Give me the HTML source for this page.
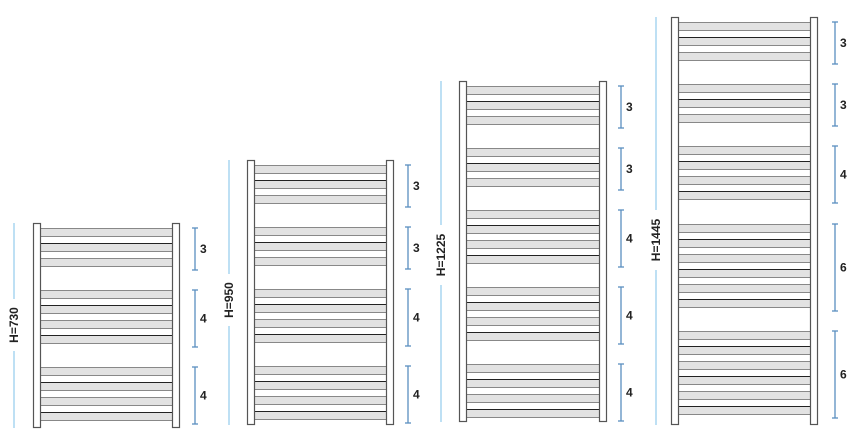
<!DOCTYPE html>
<html><head><meta charset="utf-8"><style>
html,body{margin:0;padding:0;background:#fff;width:864px;height:436px;overflow:hidden}
svg{display:block}
text{font-family:"Liberation Sans","DejaVu Sans",sans-serif;font-weight:bold;fill:#222}
</style></head><body>
<svg id="s" width="864" height="436" viewBox="0 0 864 436" xmlns="http://www.w3.org/2000/svg"></svg>
<script>
const R=[
 {L:33,Rx:172,top:223,bot:428,hx:14,lab:"H=730",ly:325,bx:195,groups:[[228,3],[290,4],[367,4]]},
 {L:247,Rx:386,top:160,bot:425,hx:229,lab:"H=950",ly:300,bx:408,groups:[[165,3],[227,3],[289,4],[366,4]]},
 {L:459,Rx:599,top:81,bot:422,hx:441,lab:"H=1225",ly:255,bx:621,groups:[[86,3],[148,3],[210,4],[287,4],[364,4]]},
 {L:671,Rx:810,top:17,bot:425,hx:656,lab:"H=1445",ly:240,bx:835,groups:[[22,3],[84,3],[146,4],[224,6],[331,6]]}
];
let h="";
for(const r of R){
 // bars
 for(const [y0,n] of r.groups){
  for(let i=0;i<n;i++){
   const y=y0+i*15;
   h+=`<rect x="${r.L+7}" y="${y}" width="${r.Rx-r.L-7}" height="9" fill="#e2e2e2"/>`;
   h+=`<line x1="${r.L+7}" x2="${r.Rx}" y1="${y+0.5}" y2="${y+0.5}" stroke="${i%2?'#222':'#888'}" stroke-width="1"/>`;
   h+=`<line x1="${r.L+7}" x2="${r.Rx}" y1="${y+8.5}" y2="${y+8.5}" stroke="#888" stroke-width="1"/>`;
  }
  const y1=y0, y2=y0+(n-1)*15+12;
  h+=`<line x1="${r.bx}" x2="${r.bx}" y1="${y1}" y2="${y2}" stroke="#5a8fc0" stroke-width="1.3"/>`;
  h+=`<line x1="${r.bx-3}" x2="${r.bx+3}" y1="${y1}" y2="${y1}" stroke="#5a8fc0" stroke-width="1.3"/>`;
  h+=`<line x1="${r.bx-3}" x2="${r.bx+3}" y1="${y2}" y2="${y2}" stroke="#5a8fc0" stroke-width="1.3"/>`;
  h+=`<text x="${r.bx+5}" y="${(y1+y2)/2+4}" font-size="12">${n}</text>`;
 }
 // posts
 h+=`<rect x="${r.L+0.5}" y="${r.top+0.5}" width="7" height="${r.bot-r.top-1}" fill="#fff" stroke="#555" stroke-width="1.2"/>`;
 h+=`<rect x="${r.Rx+0.5}" y="${r.top+0.5}" width="7" height="${r.bot-r.top-1}" fill="#fff" stroke="#555" stroke-width="1.2"/>`;
 // height dim
 const gap=r.lab.length*4+6;
 h+=`<line x1="${r.hx}" x2="${r.hx}" y1="${r.top}" y2="${r.ly-gap}" stroke="#7cc0e8" stroke-width="1"/>`;
 h+=`<line x1="${r.hx}" x2="${r.hx}" y1="${r.ly+gap}" y2="${r.bot}" stroke="#7cc0e8" stroke-width="1"/>`;
 h+=`<text x="${r.hx}" y="${r.ly}" font-size="12" text-anchor="middle" transform="rotate(-90 ${r.hx} ${r.ly}) translate(0 4)">${r.lab}</text>`;
}
document.getElementById("s").innerHTML=h;
</script>
</body></html>
